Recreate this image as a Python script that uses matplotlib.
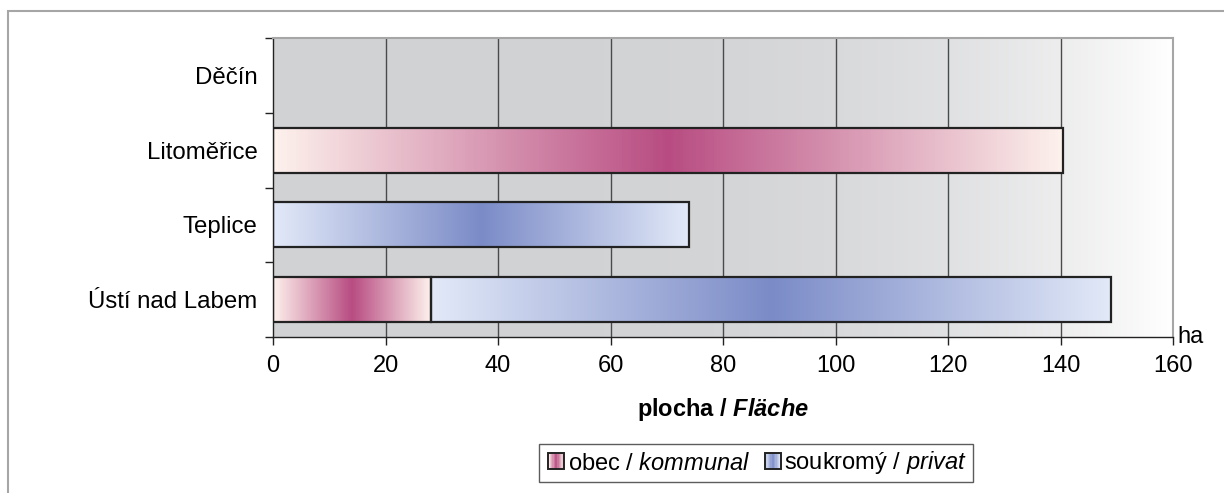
import numpy as np
import matplotlib
matplotlib.use("Agg")
import matplotlib.pyplot as plt
from matplotlib.patches import Rectangle
from matplotlib.colors import LinearSegmentedColormap, to_rgb
from matplotlib.legend_handler import HandlerBase

plt.rcParams['font.family'] = ['Liberation Sans', 'DejaVu Sans']
plt.rcParams['mathtext.fontset'] = 'custom'
plt.rcParams['mathtext.rm'] = 'Liberation Sans'
plt.rcParams['mathtext.it'] = 'Liberation Sans:italic'
plt.rcParams['mathtext.bf'] = 'Liberation Sans:bold'
plt.rcParams['mathtext.bfit'] = 'Liberation Sans:bold:italic'

# ---- data ----
categories = ["Děčín", "Litoměřice", "Teplice", "Ústí nad Labem"]
obec = [0, 140.4, 0, 28.0]
soukromy = [0, 0, 74.0, 121.0]
series_labels = ["obec / $\\it{kommunal}$", "soukromý / $\\it{privat}$"]
xticks = [0, 20, 40, 60, 80, 100, 120, 140, 160]

# ---- styles ----
pink_end, pink_mid = "#fdf1ec", "#b84c82"
blue_end, blue_mid = "#e2e9f8", "#7b8bc7"

def tube_cmap(end, mid):
    return LinearSegmentedColormap.from_list("t", [end, mid, end])

pink_cmap = tube_cmap(pink_end, pink_mid)
blue_cmap = tube_cmap(blue_end, blue_mid)

FS_CAT = 17.3
FS = 17

fig = plt.figure(figsize=(12.24, 4.93), dpi=100)
fig.patches.append(Rectangle((8/1224, -0.1), 1.2, 1 - 11/493 + 0.1,
                             transform=fig.transFigure, fill=False,
                             edgecolor="#a6a6a6", lw=1.5))
ax = fig.add_axes([273/1224, 1 - 337/493, 900/1224, 299/493])

xmax = 160
ax.set_xlim(0, xmax)
ax.set_ylim(len(categories) - 0.5, -0.5)

# background gradient
t = np.linspace(0, 1, 400)
frac = t ** 3.8
base = np.array(to_rgb("#d1d2d4"))
bg = base[None, :] + (1 - base[None, :]) * frac[:, None]
ax.imshow(bg[None, :, :], extent=[0, xmax, len(categories) - 0.5, -0.5],
          aspect="auto", zorder=0, interpolation="bilinear")

for x in xticks[1:-1]:
    ax.axvline(x, color="#4a4a4a", lw=1.0, zorder=1)

grad = np.linspace(0, 1, 256)[None, :]
h = 0.6
for i, cat in enumerate(categories):
    left = 0
    for val, cmap in ((obec[i], pink_cmap), (soukromy[i], blue_cmap)):
        if val > 0:
            ax.imshow(grad, cmap=cmap, extent=[left, left + val, i + h/2, i - h/2],
                      aspect="auto", zorder=2, interpolation="bilinear")
            ax.add_patch(Rectangle((left, i - h/2), val, h, fill=False,
                                   edgecolor="#222222", lw=1.6, zorder=3))
            left += val

ax.set_xlim(0, xmax)
ax.set_ylim(len(categories) - 0.5, -0.5)

ax.set_yticks(range(len(categories)))
ax.set_yticklabels(categories, fontsize=FS_CAT)
ax.tick_params(axis="y", which="major", length=0, pad=11)
ax.set_yticks(np.arange(-0.5, len(categories), 1), minor=True)
ax.tick_params(axis="y", which="minor", length=6, width=1, color="#222222")

ax.set_xticks(xticks)
ax.set_xticklabels([str(v) for v in xticks], fontsize=FS)
ax.tick_params(axis="x", length=6, width=1, color="#222222", pad=7)

for s in ("top", "right"):
    ax.spines[s].set_color("#a6a6a6")
    ax.spines[s].set_linewidth(1.5)
for s in ("left", "bottom"):
    ax.spines[s].set_color("#222222")
    ax.spines[s].set_linewidth(1.0)

ax.text(1.005, 0.0, "ha", transform=ax.transAxes, fontsize=FS, va="center", ha="left")

ax.set_xlabel("plocha / $\\mathbfit{Fläche}$", fontsize=FS, fontweight="bold", labelpad=14)


class GradHandler(HandlerBase):
    def __init__(self, cmap):
        super().__init__()
        self.cmap = cmap

    def create_artists(self, legend, orig_handle, xdescent, ydescent, width, height, fontsize, trans):
        side = min(width, height) * 0.95
        x0 = -xdescent + (width - side)
        y0 = -ydescent + (height - side) / 2
        arts = []
        n = 12
        for k in range(n):
            c = self.cmap((k + 0.5) / n)
            arts.append(Rectangle((x0 + side * k / n, y0), side / n * 1.05, side,
                                  facecolor=c, edgecolor="none", transform=trans))
        arts.append(Rectangle((x0, y0), side, side, fill=False, edgecolor="#222222",
                              lw=1.4, transform=trans))
        return arts


h1 = Rectangle((0, 0), 1, 1)
h2 = Rectangle((0, 0), 1, 1)
leg = fig.legend([h1, h2], series_labels, loc="center", bbox_to_anchor=(756/1224, 1 - 463/493),
                 ncol=2, fontsize=FS, frameon=True, fancybox=False, edgecolor="#333333",
                 handler_map={h1: GradHandler(pink_cmap), h2: GradHandler(blue_cmap)},
                 handlelength=0.8, handletextpad=0.15, columnspacing=0.5,
                 borderpad=0.25, borderaxespad=0)
leg.get_frame().set_linewidth(1.0)

fig.savefig("out.png", dpi=100)
